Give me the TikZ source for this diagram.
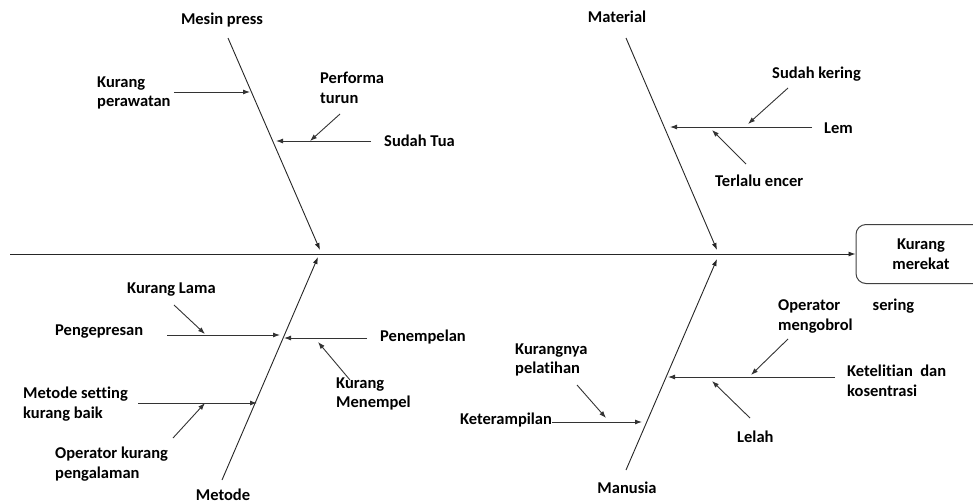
\documentclass[tikz,border=0pt]{standalone}
\usepackage{fontspec}
\setmainfont{Carlito}[Ligatures=NoCommon]
\usetikzlibrary{arrows.meta, positioning, calc}

\begin{document}
\begin{tikzpicture}[
      x=1pt, y=-1pt,
      every node/.style={font=\bfseries\fontsize{16.5}{19.5}\selectfont, inner sep=3pt, align=left},
      bone/.style={draw=black!85, line width=0.9pt, -{Latex[length=7pt,width=5pt]}},
      cause/.style={draw=black!80, line width=0.9pt, -{Latex[length=7pt,width=5pt]}},
      effect/.style={draw=black!75, line width=1pt, rounded corners=10pt, minimum width=130, minimum height=59, align=center}
    ]
      \useasboundingbox (0,0) rectangle (973,503);
      % head and spine
      \node[effect] (head) at (921,254) {Kurang\\merekat};
      \coordinate (tail) at (10,254);
      \draw[bone] (tail) -- (head.west);

      % Mesin press
      \node (mesin) at (222,20) {Mesin press};
      \coordinate (mesinTop) at (228,38);
      \coordinate (mesinTip) at (320,250);
      \draw[bone] (mesinTop) -- (mesinTip);
      \node[anchor=west] (perawatan) at (94,93) {Kurang\\perawatan};
      \coordinate (perawatanB) at (250,92);
      \draw[cause] (perawatan.east |- perawatanB) -- (perawatanB);
      \node[anchor=west] (tua) at (381,141) {Sudah Tua};
      \coordinate (tuaS) at (371,141);
      \coordinate (tuaB) at (276,141);
      \draw[cause] (tuaS) -- (tuaB);
      \node[anchor=west] (performa) at (317,88) {Performa\\turun};
      \coordinate (performaS) at (340,114);
      \coordinate (performaE) at (310,141);
      \draw[cause] (performaS) -- (performaE);

      % Material
      \node (material) at (617,17) {Material};
      \coordinate (materialTop) at (626,38);
      \coordinate (materialTip) at (717,250);
      \draw[bone] (materialTop) -- (materialTip);
      \node[anchor=west] (lem) at (821,128) {Lem};
      \coordinate (lemS) at (812,127);
      \coordinate (lemB) at (670,127);
      \draw[cause] (lemS) -- (lemB);
      \node[anchor=west] (kering) at (769,74) {Sudah kering};
      \coordinate (keringS) at (788,88);
      \coordinate (keringE) at (748,124);
      \draw[cause] (keringS) -- (keringE);
      \node[anchor=west] (encer) at (712,181) {Terlalu encer};
      \coordinate (encerS) at (746,164);
      \coordinate (encerE) at (712,130);
      \draw[cause] (encerS) -- (encerE);

      % Metode
      \node (metode) at (223,495) {Metode};
      \coordinate (metodeBot) at (222,480);
      \coordinate (metodeTip) at (318,257);
      \draw[bone] (metodeBot) -- (metodeTip);
      \node[anchor=west] (pengepresan) at (52,332) {Pengepresan};
      \coordinate (pengepresanS) at (167,335);
      \coordinate (pengepresanB) at (280,335);
      \draw[cause] (pengepresanS) -- (pengepresanB);
      \node[anchor=west] (lama) at (124,290) {Kurang Lama};
      \coordinate (lamaS) at (174,305);
      \coordinate (lamaE) at (205,334);
      \draw[cause] (lamaS) -- (lamaE);
      \node[anchor=west] (penempelan) at (377,337) {Penempelan};
      \coordinate (penempelanS) at (367,338);
      \coordinate (penempelanB) at (284,338);
      \draw[cause] (penempelanS) -- (penempelanB);
      \node[anchor=west] (menempel) at (333,394) {Kurang\\Menempel};
      \coordinate (menempelS) at (350,380);
      \coordinate (menempelE) at (318,342);
      \draw[cause] (menempelS) -- (menempelE);
      \node[anchor=west] (setting) at (20,404) {Metode setting\\kurang baik};
      \coordinate (settingS) at (138,403);
      \coordinate (settingB) at (257,403);
      \draw[cause] (settingS) -- (settingB);
      \node[anchor=west] (pengalaman) at (52,464) {Operator kurang\\pengalaman};
      \coordinate (pengalamanS) at (173,438);
      \coordinate (pengalamanE) at (205,403);
      \draw[cause] (pengalamanS) -- (pengalamanE);

      % Manusia
      \node (manusia) at (627,488) {Manusia};
      \coordinate (manusiaBot) at (626,470);
      \coordinate (manusiaTip) at (717,259);
      \draw[bone] (manusiaBot) -- (manusiaTip);
      \node[anchor=west, inner sep=0pt] (keterampilan) at (460,420) {Keterampilan};
      \coordinate (keterampilanB) at (642,422);
      \draw[cause] (keterampilan.east |- keterampilanB) -- (keterampilanB);
      \node[anchor=west] (pelatihan) at (512,360) {Kurangnya\\pelatihan};
      \coordinate (pelatihanS) at (577,385);
      \coordinate (pelatihanE) at (606,418);
      \draw[cause] (pelatihanS) -- (pelatihanE);
      \node[anchor=west] (ketelitian) at (844,381) {Ketelitian\ \ dan\\kosentrasi};
      \coordinate (ketelitianS) at (835,377);
      \coordinate (ketelitianB) at (668,377);
      \draw[cause] (ketelitianS) -- (ketelitianB);
      \node[anchor=west, text width=136] (mengobrol) at (775,316) {Operator\hfill sering\\mengobrol};
      \coordinate (mengobrolS) at (788,339);
      \coordinate (mengobrolE) at (751,375);
      \draw[cause] (mengobrolS) -- (mengobrolE);
      \node[anchor=west] (lelah) at (734,437) {Lelah};
      \coordinate (lelahS) at (750,418);
      \coordinate (lelahE) at (712,381);
      \draw[cause] (lelahS) -- (lelahE);
    \end{tikzpicture}
\end{document}
